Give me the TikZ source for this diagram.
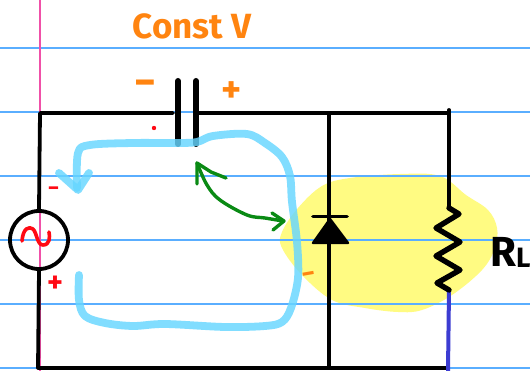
\documentclass[tikz,border=0pt]{standalone}
\usepackage{fontspec}
\setmainfont{Fira Sans}
\usetikzlibrary{calc}
\definecolor{ruled}{HTML}{5AAEFF}
\definecolor{margin}{HTML}{F050A8}
\definecolor{loopblue}{HTML}{66D6FF}
\definecolor{hl}{HTML}{FFFB82}
\definecolor{orangeink}{HTML}{FF8410}
\definecolor{redink}{HTML}{FF0A14}
\definecolor{greenink}{HTML}{0A8A14}
\definecolor{blueink}{HTML}{3C3CD2}
\tikzset{
  ruleline/.style={ruled,line width=1.2pt},
  wire/.style={black,line width=3.8pt,line cap=round,line join=round},
  plate/.style={black,line width=6pt,line cap=round},
  loopstroke/.style={loopblue,opacity=.82,line width=7.8pt,line cap=round,line join=round},
  greenstroke/.style={greenink,line width=3.4pt,line cap=round,line join=round},
  redstroke/.style={redink,line width=3.6pt,line cap=round,line join=round},
  orangetext/.style={text=orangeink,font=\bfseries,inner sep=0pt},
  redtext/.style={text=redink,font=\bfseries,inner sep=0pt},
}
\begin{document}
\begin{tikzpicture}[x=1pt,y=-1pt]
\useasboundingbox (0,0) rectangle (530,371);
\clip (0,0) rectangle (530,371);
\fill[white] (0,0) rectangle (530,371);
% highlighter
\fill[hl] plot[smooth cycle,tension=.6] coordinates {(322,186)(350,178)(400,174)(440,176)(466,195)(488,210)(497,228)(495,248)(482,270)(452,295)(422,310)(398,312)(365,308)(332,300)(302,275)(282,248)(282,232)(298,208)};
% ruled paper
\foreach \y in {48,112,176,240,304,368} \draw[ruleline] (0,\y) -- (530,\y);
\draw[margin,line width=1.3pt] (40,0) -- (40,371);
% named points
\coordinate (tl) at (40,113);
\coordinate (capL) at (173,113);
\coordinate (capR) at (199,113);
\coordinate (tm) at (329,113);
\coordinate (tr) at (449,110);
\coordinate (trw) at (449,113);
\coordinate (bl) at (38,368);
\coordinate (bm) at (329,368);
\coordinate (br) at (448,368);
\coordinate (rtop) at (449,208);
\coordinate (rbot) at (449,290);
\node[circle,draw=black,line width=3.8pt,minimum size=58pt,inner sep=0pt] (src) at (39,240) {};
% wires
\draw[wire] (capL) -- (tl) -- (src.north);
\draw[wire] (src.south) -- (bl) -- (br);
\draw[wire] (capR) -- (trw);
\draw[wire] (tm) -- (bm);
\draw[wire] (tr) -- (rtop);
\draw[blueink,line width=4pt] (rbot) -- (448,371);
% capacitor
\coordinate (p1a) at (178,81); \coordinate (p1b) at (178,144);
\coordinate (p2a) at (196,81); \coordinate (p2b) at (196,144);
\draw[plate] (p1a) -- (p1b);
\draw[plate] (p2a) -- (p2b);
% diode
\coordinate (dbarL) at (313,216.5); \coordinate (dbarR) at (347,216.5);
\draw[wire] (dbarL) -- (dbarR);
\fill[black,draw=black,line width=2.4pt,line join=round] (330,219) -- (313,243) -- (348,243) -- cycle;
% resistor
\draw[black,line width=5.4pt,line join=round,line cap=round] (rtop) -- (459,214) -- (436,228) -- (460,242) -- (436,256) -- (460,270) -- (437,283) -- (rbot);
% source tilde
\draw[redstroke] (22,241) .. controls (23,228) and (29,226) .. (33,229) .. controls (37,233) and (37,245) .. (43,245) .. controls (50,245) and (50,237) .. (49,232);
% current loop
\draw[loopstroke] plot[smooth,tension=.55] coordinates {(79,275)(79,300)(85,316)(105,323)(133,326)(165,324)(225,327)(265,326)(282,322)(291,308)(298,278)(297,242)(292,202)(290,176)(282,157)(265,143)(247,134)(213,136)(197,142)(177,143)(133,143)(90,145)(78,153)(77,188)};
\draw[loopstroke] (59,173) -- (78,190) -- (89,173);
% green arrow
\draw[greenstroke] plot[smooth,tension=.6] coordinates {(197,163)(207,185)(220,200)(247,215)(265,218)(283,221)};
\draw[greenstroke] (226,178) -- (211,172) -- (197,163) -- (197,184);
\draw[greenstroke] (272,213) -- (284,221) -- (273,230);
% labels
\node[orangetext,font=\bfseries\fontsize{35}{35}\selectfont] (constv) at (192,26) {Const V};
\node[orangetext,font=\bfseries\fontsize{42}{42}\selectfont] (capminus) at (145,88) {−};
\node[orangetext,font=\bfseries\fontsize{38}{38}\selectfont] (capplus) at (232,92) {+};
\node[orangetext,font=\bfseries\fontsize{26}{26}\selectfont,rotate=10] (dminus) at (309.5,277) {−};
\node[redtext,font=\bfseries\fontsize{22}{22}\selectfont] (srcminus) at (53.5,191) {−};
\node[redtext,font=\bfseries\fontsize{30}{30}\selectfont] (srcplus) at (55,284) {+};
\fill[redink] (154,128) circle (2.2pt);
\node[font=\bfseries\fontsize{42}{42}\selectfont,inner sep=0pt,anchor=base west] (rl) at (490,267) {R\raisebox{-1pt}{\fontsize{28}{28}\selectfont L}};
\end{tikzpicture}
\end{document}
